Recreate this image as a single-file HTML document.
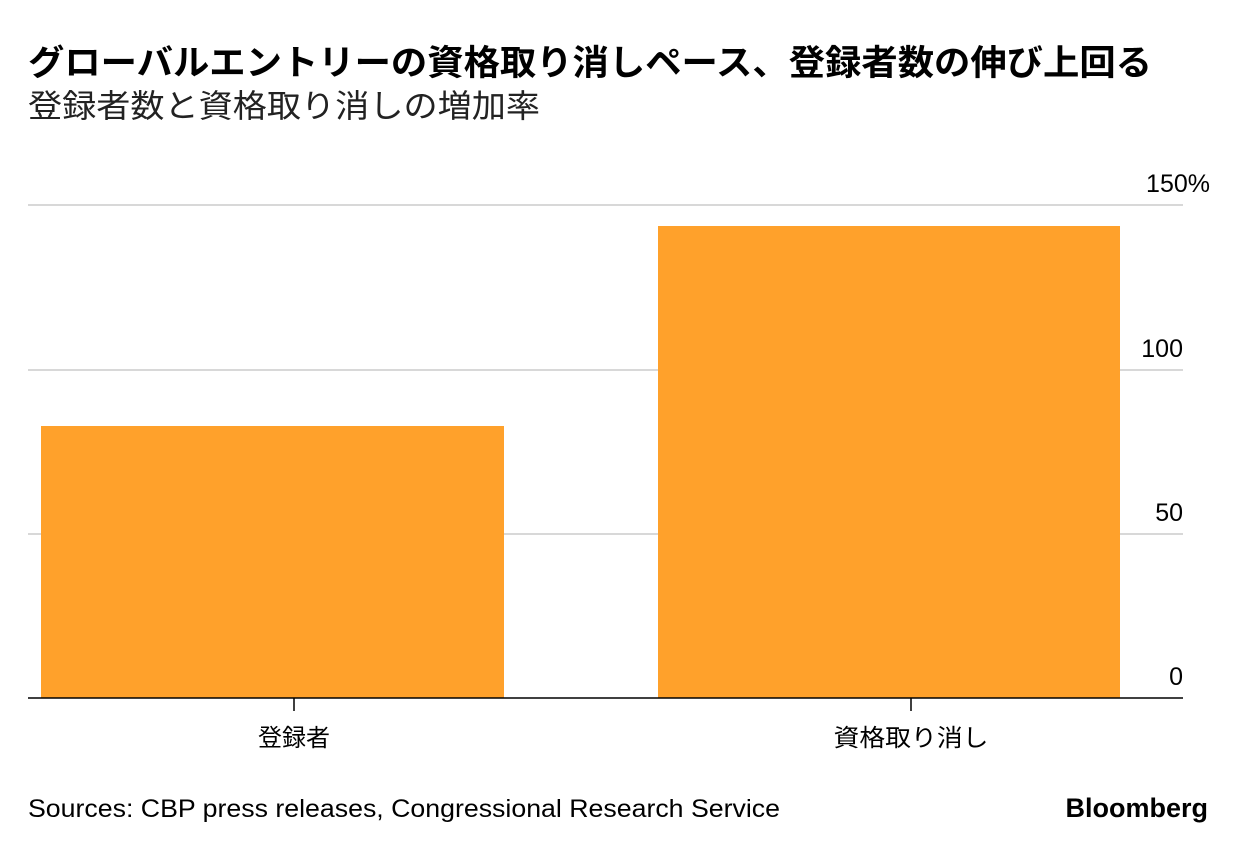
<!DOCTYPE html>
<html><head><meta charset="utf-8"><style>
body{margin:0;background:#fff;width:1237px;height:850px;overflow:hidden;font-family:"Liberation Sans","Noto Sans CJK JP",sans-serif;color:#000}
</style></head><body>
<svg width="1237" height="850" style="position:absolute;left:0;top:0" font-family="Liberation Sans, Noto Sans CJK JP, sans-serif">
<text x="28" y="75" font-size="35" font-weight="bold" textLength="1124" lengthAdjust="spacingAndGlyphs">グローバルエントリーの資格取り消しペース、登録者数の伸び上回る</text>
<text x="28" y="117" font-size="32" fill="#222" textLength="512" lengthAdjust="spacingAndGlyphs">登録者数と資格取り消しの増加率</text>
<g stroke="#ccc" stroke-width="1.5">
<line x1="28" x2="1183" y1="205" y2="205"/>
<line x1="28" x2="1183" y1="370" y2="370"/>
<line x1="28" x2="1183" y1="534" y2="534"/>
</g>
<rect x="41" y="426" width="463" height="272" fill="#FFA12B"/>
<rect x="658" y="226" width="462" height="472" fill="#FFA12B"/>
<line x1="28" x2="1183" y1="698" y2="698" stroke="#000" stroke-width="1.5"/>
<line x1="294" x2="294" y1="698" y2="711" stroke="#000" stroke-width="1.5"/>
<line x1="911" x2="911" y1="698" y2="711" stroke="#000" stroke-width="1.5"/>
<g font-size="25" text-anchor="end" fill="#000">
<text x="1210" y="192">150%</text>
<text x="1183" y="357">100</text>
<text x="1183" y="521">50</text>
<text x="1183" y="685">0</text>
</g>
<g font-size="24" text-anchor="middle">
<text x="294" y="746" textLength="72" lengthAdjust="spacingAndGlyphs">登録者</text>
<text x="911" y="746" textLength="155" lengthAdjust="spacingAndGlyphs">資格取り消し</text>
</g>
<text x="28" y="817" font-size="25" textLength="752" lengthAdjust="spacingAndGlyphs">Sources: CBP press releases, Congressional Research Service</text>
<text x="1208" y="817" font-size="27" font-weight="bold" text-anchor="end">Bloomberg</text>
</svg>
</body></html>
